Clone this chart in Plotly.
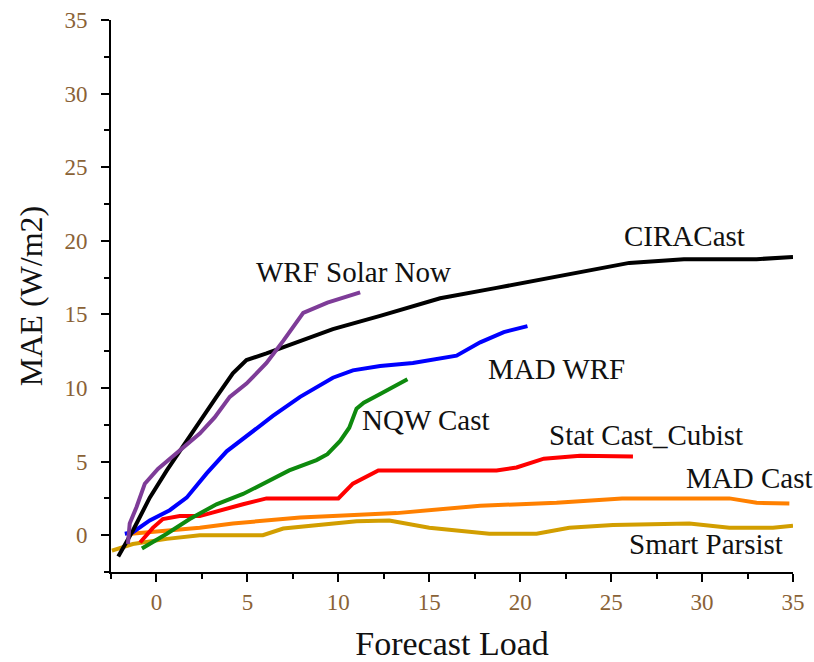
import plotly.graph_objects as go

# Forecast load (x) and MAE (y) for each forecasting system
cira_x = [-2.1, -1.3, -0.37, 0.57, 1.66, 2.4, 3.3, 4.2, 4.95, 6.05, 7.9, 9.7, 12.3, 15.6, 18.7, 22.4, 26.0, 29.0, 33.0, 35.0]
cira_y = [-1.45, 0.3, 2.55, 4.4, 6.4, 7.8, 9.4, 11.0, 11.9, 12.35, 13.2, 14.0, 14.9, 16.1, 16.8, 17.65, 18.5, 18.75, 18.75, 18.9]

wrfsolar_x = [-1.57, -1.47, -1.1, -0.64, 0.08, 0.73, 1.46, 2.38, 3.2, 4.03, 4.95, 6.05, 6.97, 8.07, 9.4, 11.2]
wrfsolar_y = [-0.6, 0.8, 1.9, 3.5, 4.5, 5.2, 5.9, 6.9, 8.0, 9.4, 10.3, 11.7, 13.2, 15.1, 15.8, 16.5]

madwrf_x = [-1.74, -1.3, -0.37, 0.73, 1.66, 2.76, 3.86, 5.1, 6.4, 7.9, 9.7, 10.8, 12.3, 14.1, 16.5, 17.8, 19.1, 20.4]
madwrf_y = [0.1, 0.2, 1.0, 1.7, 2.55, 4.2, 5.7, 6.9, 8.1, 9.4, 10.7, 11.2, 11.5, 11.7, 12.2, 13.1, 13.8, 14.2]

nqw_x = [-0.8, 0.57, 1.83, 3.3, 4.76, 6.05, 7.3, 8.8, 9.4, 10.1, 10.6, 11.0, 11.4, 12.3, 13.8]
nqw_y = [-0.9, 0.1, 1.1, 2.1, 2.8, 3.6, 4.4, 5.1, 5.5, 6.4, 7.3, 8.6, 9.0, 9.6, 10.6]

stat_x = [-0.9, -0.2, 0.35, 1.28, 2.38, 3.5, 4.76, 6.05, 7.9, 10.0, 10.8, 11.55, 12.2, 18.7, 19.8, 21.3, 23.3, 26.2]
stat_y = [-0.5, 0.5, 1.1, 1.3, 1.3, 1.7, 2.1, 2.5, 2.5, 2.5, 3.5, 4.0, 4.4, 4.4, 4.6, 5.2, 5.4, 5.35]

madcast_x = [-1.4, 0.57, 2.38, 4.2, 6.05, 7.9, 9.7, 12.3, 13.2, 17.8, 22.0, 25.6, 31.5, 33.0, 34.8]
madcast_y = [0.1, 0.3, 0.5, 0.8, 1.0, 1.2, 1.3, 1.45, 1.5, 2.0, 2.2, 2.5, 2.5, 2.2, 2.15]

smart_x = [-2.45, -1.3, 0.57, 2.38, 4.2, 5.85, 6.97, 8.6, 9.7, 11.0, 12.8, 15.0, 18.3, 20.9, 22.7, 25.1, 29.3, 31.5, 33.9, 35.0]
smart_y = [-1.05, -0.6, -0.25, 0.0, 0.0, 0.0, 0.45, 0.65, 0.8, 0.95, 1.0, 0.5, 0.1, 0.1, 0.5, 0.7, 0.8, 0.5, 0.5, 0.65]

x_ticks = [0, 5, 10, 15, 20, 25, 30, 35]
y_ticks = [0, 5, 10, 15, 20, 25, 30, 35]

series = [
    ("Smart Parsist", smart_x, smart_y, "#D29E00"),
    ("MAD Cast", madcast_x, madcast_y, "#FF8000"),
    ("Stat Cast_Cubist", stat_x, stat_y, "#FF0000"),
    ("NQW Cast", nqw_x, nqw_y, "#0E8A0E"),
    ("MAD WRF", madwrf_x, madwrf_y, "#0000FF"),
    ("CIRACast", cira_x, cira_y, "#000000"),
    ("WRF Solar Now", wrfsolar_x, wrfsolar_y, "#7E3C98"),
]

# Text labels placed beside each curve (data coordinates)
labels = [
    ("CIRACast", 29.05, 20.3),
    ("WRF Solar Now", 10.85, 17.86),
    ("MAD WRF", 22.0, 11.26),
    ("NQW Cast", 14.8, 7.86),
    ("Stat Cast_Cubist", 26.9, 6.84),
    ("MAD Cast", 32.6, 3.9),
    ("Smart Parsist", 30.2, -0.58),
]

fig = go.Figure()
for name, xs, ys, color in series:
    fig.add_trace(go.Scatter(x=xs, y=ys, mode="lines", name=name,
                             line=dict(color=color, width=4)))

for text, lx, ly in labels:
    fig.add_annotation(x=lx, y=ly, text=text, showarrow=False,
                       font=dict(family="Liberation Serif", size=29, color="#111111"))

axis_common = dict(
    showline=True, linecolor="black", linewidth=2, mirror=False,
    showgrid=False, zeroline=False, automargin=False,
    ticks="outside", ticklen=8, tickwidth=2, tickcolor="black",
    tickfont=dict(family="Liberation Serif", size=23, color="#8a6236"),
    minor=dict(ticks="outside", ticklen=5, tickwidth=2, tickcolor="black", dtick=2.5),
)

fig.update_xaxes(range=[-2.5, 35], tickvals=x_ticks, ticklabelstandoff=0, **axis_common,
                 title=dict(text="Forecast Load", standoff=18,
                            font=dict(family="Liberation Serif", size=34, color="#111111")))
fig.update_yaxes(range=[-2.5, 35], tickvals=y_ticks, ticklabelstandoff=9, **axis_common,
                 title=dict(text="MAE (W/m2)", standoff=12,
                            font=dict(family="Liberation Serif", size=32, color="#111111")))

fig.update_layout(
    width=814, height=662,
    margin=dict(l=111, r=21, t=20, b=90),
    plot_bgcolor="white", paper_bgcolor="white",
    showlegend=False,
)

fig.write_html("out.html")
